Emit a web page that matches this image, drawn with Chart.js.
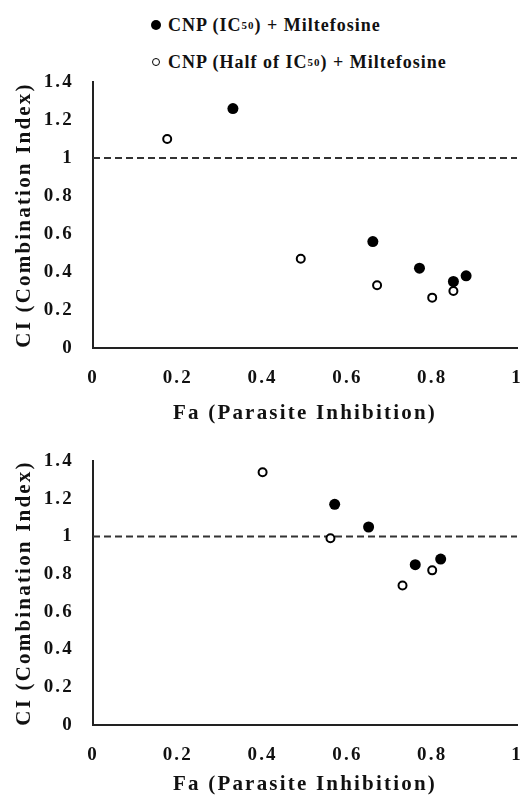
<!DOCTYPE html>
<html>
<head>
<meta charset="utf-8">
<script src="https://cdn.jsdelivr.net/npm/chart.js@4.4.1/dist/chart.umd.min.js"></script>
<style>
  html, body { margin: 0; padding: 0; background: #fff; overflow: hidden; }
  #wrap { position: relative; width: 525px; height: 795px;
    font-family: "Times New Roman", "Liberation Serif", Tinos, "DejaVu Serif", "Noto Serif", serif; }
  .legend-row { position: absolute; left: 151px; height: 20px; display: flex; align-items: center;
    font-weight: bold; font-size: 18px; letter-spacing: 1px; color: #111; white-space: nowrap; }
  .legend-row sub { font-size: 11px; vertical-align: -4px; letter-spacing: 1px; }
  .mk { display: inline-block; box-sizing: border-box; border-radius: 50%; flex: none; }
  .mk.full { width: 10px; height: 10px; background: #000; margin-right: 7px; }
  .mk.half { width: 8px; height: 8px; border: 1.6px solid #000; background: #fff; margin-left: 1px; margin-right: 8px; }
  canvas { position: absolute; left: 0; }
</style>
</head>
<body>
<div id="wrap">
  <div class="legend-row" style="top:15px"><span class="mk full"></span>CNP (IC<sub>50</sub>) + Miltefosine</div>
  <div class="legend-row" style="top:52px"><span class="mk half"></span>CNP (Half of IC<sub>50</sub>) + Miltefosine</div>
  <canvas id="topChart" width="525" height="360" style="top:70px"></canvas>
  <canvas id="bottomChart" width="525" height="365" style="top:430px"></canvas>
</div>
<script>
// Data
const xTicks = [0, 0.2, 0.4, 0.6, 0.8, 1];
const yTicks = [0, 0.2, 0.4, 0.6, 0.8, 1, 1.2, 1.4];
const refLineX = [0, 1];
const refLineY = [1, 1];

// upper panel
const topFullX = [0.33, 0.66, 0.77, 0.85, 0.88];
const topFullY = [1.26, 0.56, 0.42, 0.35, 0.38];
const topHalfX = [0.175, 0.49, 0.67, 0.80, 0.85];
const topHalfY = [1.10, 0.47, 0.33, 0.265, 0.30];

// lower panel
const botFullX = [0.57, 0.65, 0.76, 0.82];
const botFullY = [1.17, 1.05, 0.85, 0.88];
const botHalfX = [0.40, 0.56, 0.73, 0.80];
const botHalfY = [1.34, 0.99, 0.74, 0.82];

const xTitle = 'Fa (Parasite Inhibition)';
const yTitle = 'CI (Combination Index)';

const serif = '"Times New Roman", "Liberation Serif", Tinos, "DejaVu Serif", "Noto Serif", serif';

function toPoints(xs, ys) {
    return xs.map((x, i) => ({ x, y: ys[i] }));
}

function fmt(v) {
    return String(Number(v.toFixed(1)));
}

// the original text is set quite wide, so space the letters out a bit
const wideText = {
    id: 'wideText',
    beforeUpdate(chart) { chart.ctx.letterSpacing = '2.2px'; },
    beforeDraw(chart) { chart.ctx.letterSpacing = '2.2px'; }
};

// invisible tick marks are used as the gap between axis line and labels,
// so the layout doesn't reserve extra padding around the chart area
function gapGrid(len) {
    return {
        display: true,
        drawOnChartArea: false,
        drawTicks: true,
        tickLength: len,
        color: 'rgba(0,0,0,0)'
    };
}

function makeChart(id, fullX, fullY, halfX, halfY, layout) {
    const ctx = document.getElementById(id).getContext('2d');
    return new Chart(ctx, {
        type: 'scatter',
        plugins: [wideText],
        data: {
            datasets: [
                {
                    label: 'CNP (IC50) + Miltefosine',
                    data: toPoints(fullX, fullY),
                    pointRadius: 5.5,
                    pointBackgroundColor: '#000',
                    pointBorderColor: '#000',
                    pointBorderWidth: 0,
                    order: 1
                },
                {
                    label: 'CNP (Half of IC50) + Miltefosine',
                    data: toPoints(halfX, halfY),
                    pointRadius: 4,
                    pointBackgroundColor: '#fff',
                    pointBorderColor: '#000',
                    pointBorderWidth: 2,
                    order: 2
                },
                {
                    label: 'CI = 1',
                    data: toPoints(refLineX, refLineY),
                    showLine: true,
                    borderColor: '#333',
                    borderWidth: 2,
                    borderDash: [7, 4],
                    pointRadius: 0,
                    order: 10
                }
            ]
        },
        options: {
            responsive: false,
            animation: false,
            events: [],
            layout: { padding: { top: layout.top, right: 8, left: 0, bottom: 0 } },
            plugins: {
                legend: { display: false },
                tooltip: { enabled: false }
            },
            scales: {
                x: {
                    type: 'linear',
                    min: 0,
                    max: 1,
                    afterBuildTicks: axis => { axis.ticks = xTicks.map(v => ({ value: v })); },
                    afterFit: axis => { axis.height = layout.xHeight; },
                    grid: gapGrid(19),
                    border: { display: true, color: '#222', width: 2 },
                    ticks: {
                        color: '#111',
                        padding: 0,
                        maxRotation: 0,
                        font: { family: serif, size: 19, weight: 'bold' },
                        callback: v => fmt(v)
                    },
                    title: {
                        display: true,
                        text: xTitle,
                        color: '#111',
                        padding: { top: 0, bottom: layout.xTitlePad },
                        font: { family: serif, size: 21, weight: 'bold', lineHeight: 1 }
                    }
                },
                y: {
                    type: 'linear',
                    min: 0,
                    max: 1.4,
                    afterBuildTicks: axis => { axis.ticks = yTicks.map(v => ({ value: v })); },
                    afterFit: axis => { axis.width = 93; },
                    grid: gapGrid(19),
                    border: { display: true, color: '#222', width: 2 },
                    ticks: {
                        color: '#111',
                        padding: 0,
                        font: { family: serif, size: 19, weight: 'bold' },
                        callback: v => fmt(v)
                    },
                    title: {
                        display: true,
                        text: yTitle,
                        color: '#111',
                        padding: { top: 14, bottom: 0 },
                        font: { family: serif, size: 21, weight: 'bold', lineHeight: 1 }
                    }
                }
            }
        }
    });
}

makeChart('topChart', topFullX, topFullY, topHalfX, topHalfY,
    { top: 12, xHeight: 82, xTitlePad: 6 });
makeChart('bottomChart', botFullX, botFullY, botHalfX, botHalfY,
    { top: 31, xHeight: 70, xTitlePad: 0 });
</script>
</body>
</html>
